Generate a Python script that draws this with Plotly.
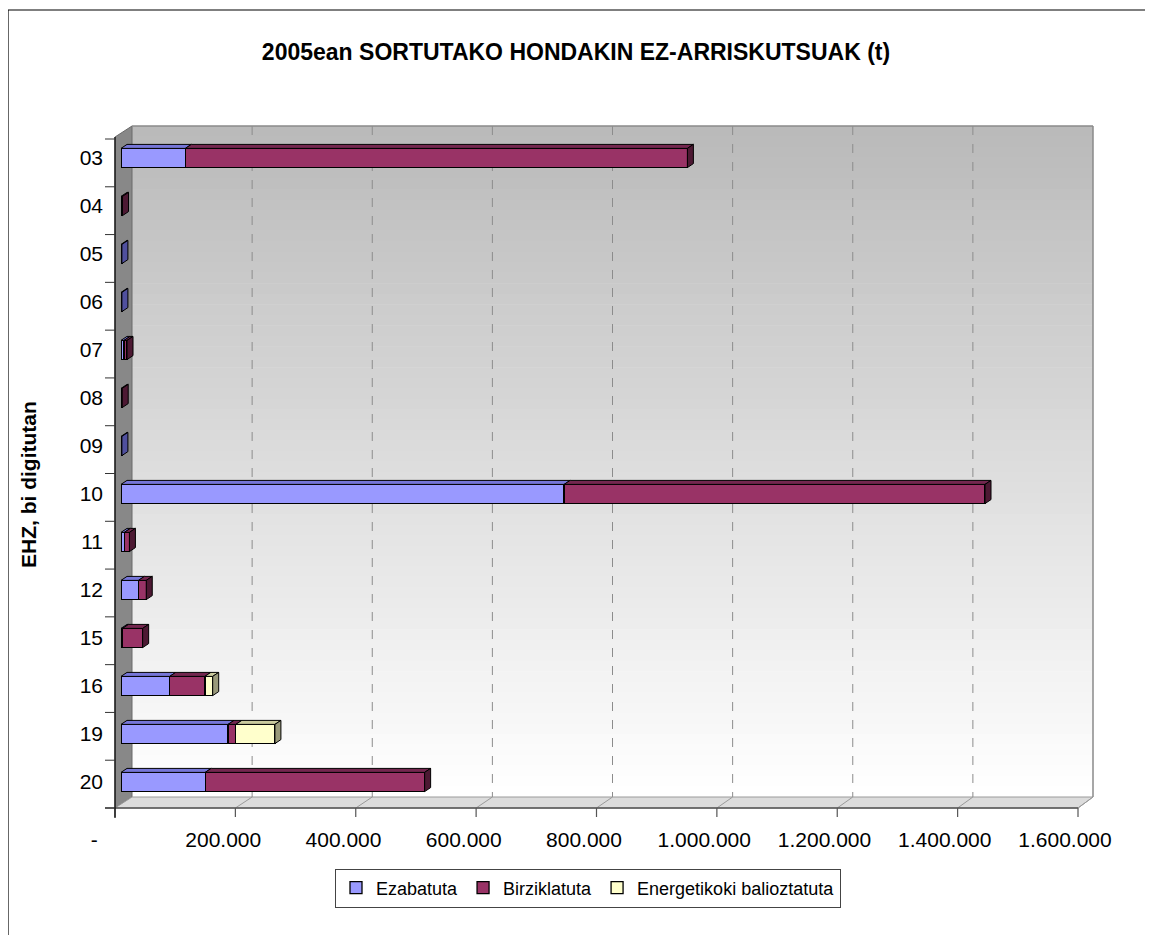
import plotly.graph_objects as go

# ---------------- data ----------------
categories = ["03", "04", "05", "06", "07", "08", "09", "10", "11", "12", "15", "16", "19", "20"]
ezabatuta = [107000, 0, 1500, 1500, 5000, 0, 1500, 737000, 5500, 29000, 2500, 81000, 178000, 140000]
birziklatuta = [835000, 2500, 0, 0, 5000, 2000, 0, 700000, 8500, 13000, 33500, 58500, 13000, 365000]
energetikoki = [0, 0, 0, 0, 0, 0, 0, 0, 0, 0, 0, 13000, 65000, 0]
series_names = ["Ezabatuta", "Birziklatuta", "Energetikoki balioztatuta"]
x_tick_values = [0, 200000, 400000, 600000, 800000, 1000000, 1200000, 1400000, 1600000]
x_tick_labels = ["-\u00a0\u00a0\u00a0", "200.000", "400.000", "600.000", "800.000",
                 "1.000.000", "1.200.000", "1.400.000", "1.600.000"]
title_text = "2005ean SORTUTAKO HONDAKIN EZ-ARRISKUTSUAK (t)"
y_title = "EHZ, bi digitutan"

# ---------------- styles / geometry ----------------
FONT = "Arial, 'Liberation Sans', sans-serif"
front_cols = ["#9999FF", "#993366", "#FFFFCC"]
top_cols = ["#7676D8", "#74274F", "#CACA9E"]
side_cols = ["#50509E", "#4D1933", "#99997A"]

SCREEN_W, SCREEN_H = 1153, 943
OFF = 8                                   # page body margin
FIG_W, FIG_H = SCREEN_W - 2 * OFF, SCREEN_H - 2 * OFF
# plot area in screen pixels
L, R, T, B = 121, 1083, 134, 806
XMAX = 1600000
N = len(categories)
BAR_W = 0.4
band = (B - T) / N
DX = 6 * XMAX / (R - L)      # depth offset (data units)
DY = 4 / band                # depth offset (category units)


def px(x):
    return (x - L) / (R - L)


def py(y):
    return (B - y) / (B - T)


fig = go.Figure()
ypos = list(range(N))
series = [ezabatuta, birziklatuta, energetikoki]

for name, vals, col in zip(series_names, series, front_cols):
    fig.add_trace(go.Bar(
        y=ypos, x=[v if v > 0 else None for v in vals], orientation="h", name=name,
        width=BAR_W, marker=dict(color=col, line=dict(color="black", width=1.3)),
        hovertemplate=name + ": %{x:,}<extra></extra>"))

# 3D faces (derived from the stacked data)
starts = [0] * N
last_idx = [max([k for k in range(3) if series[k][i] > 0], default=-1) for i in range(N)]
top_traces, side_traces = [], []
for k, vals in enumerate(series):
    tx, ty, sx, sy = [], [], [], []
    for i in range(N):
        v = vals[i]
        if v > 0:
            x0, x1 = starts[i], starts[i] + v
            yt, yb = i - BAR_W / 2, i + BAR_W / 2
            tx += [x0, x1, x1 + DX, x0 + DX, x0, None]
            ty += [yt, yt, yt - DY, yt - DY, yt, None]
            if last_idx[i] == k:
                sx += [x1, x1 + DX, x1 + DX, x1, x1, None]
                sy += [yt, yt - DY, yb - DY, yb, yt, None]
            starts[i] = x1
    top_traces.append(go.Scatter(x=tx, y=ty, mode="lines", fill="toself", fillcolor=top_cols[k],
                                 line=dict(color="black", width=1), hoverinfo="skip", showlegend=False))
    side_traces.append(go.Scatter(x=sx, y=sy, mode="lines", fill="toself", fillcolor=side_cols[k],
                                  line=dict(color="black", width=1), hoverinfo="skip", showlegend=False))
for t in top_traces + side_traces:
    fig.add_trace(t)

# ---------------- frame shapes ----------------
shapes = []
BX0, BX1, BY0, BY1 = 132, 1093, 126, 797     # back wall
FX0, FX1, FY = 115, 1078, 808                # front edge
ngrad = 64
c0, c1 = 186, 255
for j in range(ngrad):
    ya = BY0 + (BY1 - BY0) * j / ngrad
    yb = BY0 + (BY1 - BY0) * (j + 1) / ngrad + 0.6
    c = int(round(c0 + (c1 - c0) * j / (ngrad - 1)))
    shapes.append(dict(type="rect", xref="paper", yref="paper", layer="below",
                       x0=px(BX0), x1=px(BX1), y0=py(yb), y1=py(ya),
                       fillcolor=f"rgb({c},{c},{c})", line=dict(width=0)))
# side wall
shapes.append(dict(type="path", xref="paper", yref="paper", layer="below",
                   path=f"M {px(FX0)},{py(137)} L {px(BX0)},{py(BY0)} L {px(BX0)},{py(BY1)} L {px(FX0)},{py(FY)} Z",
                   fillcolor="#888888", line=dict(color="#6a6a6a", width=1)))
# floor
shapes.append(dict(type="path", xref="paper", yref="paper", layer="below",
                   path=f"M {px(FX0)},{py(FY)} L {px(BX0)},{py(BY1)} L {px(BX1)},{py(BY1)} L {px(FX1)},{py(FY)} Z",
                   fillcolor="#dcdcdc", line=dict(color="#9a9a9a", width=1)))
# back wall outline
shapes.append(dict(type="line", xref="paper", yref="paper", layer="below",
                   x0=px(BX0), x1=px(BX1), y0=py(BY0), y1=py(BY0), line=dict(color="#8a8a8a", width=1.5)))
shapes.append(dict(type="line", xref="paper", yref="paper", layer="below",
                   x0=px(BX1), x1=px(BX1), y0=py(BY0), y1=py(BY1), line=dict(color="#8a8a8a", width=1.5)))
# gridlines on back wall + floor diagonals + front ticks
for v in x_tick_values:
    bx = BX0 + v * (BX1 - BX0) / XMAX
    fx = FX0 + v * (FX1 - FX0) / XMAX
    if 0 < v < XMAX:
        shapes.append(dict(type="line", xref="paper", yref="paper", layer="below",
                           x0=px(bx), x1=px(bx), y0=py(BY0), y1=py(BY1),
                           line=dict(color="#8c8c8c", width=1, dash="dash")))
    if v > 0:
        shapes.append(dict(type="line", xref="paper", yref="paper", layer="below",
                           x0=px(fx), x1=px(bx), y0=py(FY), y1=py(BY1),
                           line=dict(color="#9a9a9a", width=1)))
    shapes.append(dict(type="line", xref="paper", yref="paper",
                       x0=px(fx), x1=px(fx), y0=py(FY), y1=py(FY + 9),
                       line=dict(color="#555555", width=1.2)))
# front x edge
shapes.append(dict(type="line", xref="paper", yref="paper",
                   x0=px(105), x1=px(FX1), y0=py(FY), y1=py(FY), line=dict(color="#555555", width=1.5)))
# y axis line + ticks
shapes.append(dict(type="line", xref="paper", yref="paper",
                   x0=px(FX0), x1=px(FX0), y0=py(137), y1=py(818), line=dict(color="black", width=1.2)))
yb_top, yb_bot = 139, 808
for k in range(N + 1):
    yy = yb_top + k * (yb_bot - yb_top) / N
    shapes.append(dict(type="line", xref="paper", yref="paper",
                       x0=px(105), x1=px(FX0), y0=py(yy), y1=py(yy), line=dict(color="#333333", width=1)))
# outer chart border: only the left and top edges are visible in the image
shapes.append(dict(type="line", xref="paper", yref="paper",
                   x0=px(8), x1=px(8), y0=py(10), y1=py(SCREEN_H - OFF), line=dict(color="black", width=1.2)))
shapes.append(dict(type="line", xref="paper", yref="paper",
                   x0=px(8), x1=px(SCREEN_W - OFF), y0=py(10), y1=py(10), line=dict(color="black", width=1.2)))

fig.update_layout(
    width=FIG_W, height=FIG_H,
    margin=dict(l=L - OFF, r=FIG_W - (R - OFF), t=T - OFF, b=FIG_H - (B - OFF), pad=0),
    paper_bgcolor="white", plot_bgcolor="rgba(0,0,0,0)",
    barmode="stack", bargap=0.6,
    font=dict(family=FONT, color="black", size=21),
    title=dict(text="<b>" + title_text + "</b>", x=(576 - OFF) / FIG_W, xanchor="center",
               y=1 - (52 - OFF) / FIG_H, yanchor="middle", font=dict(size=23, family=FONT)),
    xaxis=dict(range=[0, XMAX], fixedrange=True, showgrid=False, zeroline=False, showline=False,
               tickmode="array", tickvals=x_tick_values, ticktext=x_tick_labels, ticks="",
               tickfont=dict(size=21), ticklabelshift=-18, ticklabelstandoff=19),
    yaxis=dict(range=[N - 0.5, -0.5], fixedrange=True, showgrid=False, zeroline=False, showline=False,
               tickmode="array", tickvals=ypos, ticktext=categories, ticks="",
               tickfont=dict(size=21), ticklabelstandoff=17),
    legend=dict(orientation="h", x=px(588), xanchor="center", y=py(888), yanchor="middle",
                traceorder="normal", bordercolor="#444444", borderwidth=1, bgcolor="white",
                font=dict(size=18), itemwidth=30, entrywidthmode="pixels"),
    shapes=shapes,
    annotations=[dict(text="<b>" + y_title + "</b>", xref="paper", yref="paper",
                      x=px(28), y=py(485), xanchor="center", yanchor="middle", textangle=-90,
                      showarrow=False, font=dict(size=21, family=FONT))],
    showlegend=True,
)

fig.write_html("out.html")
